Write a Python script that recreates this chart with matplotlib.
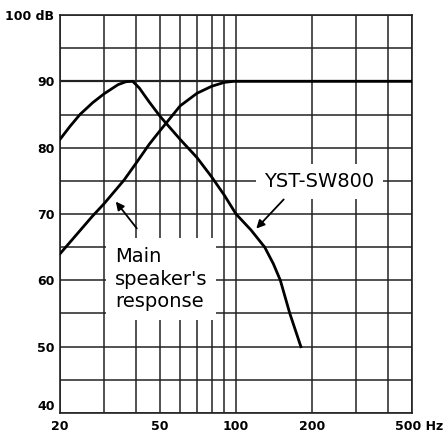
import numpy as np
import matplotlib
matplotlib.use("Agg")
import matplotlib.pyplot as plt
from matplotlib.transforms import ScaledTranslation

# curve points (Hz, dB)
sub_freq = [20, 21.9, 24.0, 27, 30, 34.0, 36.6, 38.9, 41.3, 45.2, 50, 60, 70, 80, 90,
            100, 114.6, 130, 140.7, 150, 163.6, 181]
sub_db = [81.25, 83.2, 85.0, 86.8, 88.15, 89.5, 89.95, 90.0, 89.0, 86.9, 84.7, 81.25,
          78.5, 75.6, 72.8, 70.0, 67.6, 65.0, 62.5, 60.0, 55.0, 50.0]

main_freq = [20, 26.8, 30, 35.9, 40, 45.2, 50, 60, 70, 80, 90, 98, 200, 500]
main_db = [64.0, 69.6, 71.6, 75.1, 77.6, 80.5, 82.6, 86.3, 88.2, 89.25, 89.85, 90.0,
           90.0, 90.0]

x_grid = [20, 30, 40, 50, 60, 70, 80, 90, 100, 200, 300, 400, 500]
x_ticks = [20, 50, 100, 200, 500]
x_labels = ["20", "50", "100", "200", "500 Hz"]
y_grid = list(range(40, 101, 5))
y_ticks = [40, 50, 60, 70, 80, 90, 100]
y_labels = ["40", "50", "60", "70", "80", "90", "100 dB"]

fig = plt.figure(figsize=(4.43, 4.32), dpi=100)
ax = fig.add_axes([60 / 443, 1 - 413 / 432, 352 / 443, 398 / 432])
ax.set_xscale("log")
ax.set_xlim(20, 500)
ax.set_ylim(40, 100)

for f in x_grid:
    ax.axvline(f, color="#222222", lw=1.1, zorder=1)
for d in y_grid:
    ax.axhline(d, color="#222222", lw=1.6 if d == 90 else 1.1, zorder=1)

ax.plot(sub_freq, sub_db, color="black", lw=2.0, zorder=3, solid_joinstyle="round")
ax.plot(main_freq, main_db, color="black", lw=2.0, zorder=3, solid_joinstyle="round")

ax.set_xticks(x_ticks)
ax.set_xticklabels(x_labels)
ax.xaxis.set_minor_locator(matplotlib.ticker.NullLocator())
ax.set_yticks(y_ticks)
ax.set_yticklabels(y_labels)
ax.tick_params(length=0, labelsize=9, pad=4)
ax.tick_params(axis="x", pad=5)
for lab in ax.get_xticklabels() + ax.get_yticklabels():
    lab.set_fontweight("bold")
ax.get_yticklabels()[0].set_verticalalignment("bottom")

# "500 Hz": the number sits on its grid line, the unit runs off to the right
last = ax.get_xticklabels()[-1]
last.set_horizontalalignment("left")
last.set_transform(last.get_transform() + ScaledTranslation(-17 / 100, 0, fig.dpi_scale_trans))

for s in ax.spines.values():
    s.set_linewidth(1.2)
    s.set_color("#222222")

ax.text(214, 74.9, "YST-SW800", fontsize=14, ha="center", va="center", zorder=4,
        bbox=dict(facecolor="white", edgecolor="none", pad=6))
ax.text(33, 60.2, "Main\nspeaker's\nresponse", fontsize=14, ha="left", va="center",
        linespacing=1.25, zorder=4,
        bbox=dict(facecolor="white", edgecolor="none", pad=6))

arrow = dict(arrowstyle="-|>", color="black", lw=1.3, mutation_scale=12)
ax.annotate("", xy=(32.8, 72.2), xytext=(41.0, 67.5), arrowprops=arrow, zorder=5)
ax.annotate("", xy=(118.3, 67.5), xytext=(157.4, 72.5), arrowprops=arrow, zorder=5)

fig.savefig("out.png", dpi=100)
